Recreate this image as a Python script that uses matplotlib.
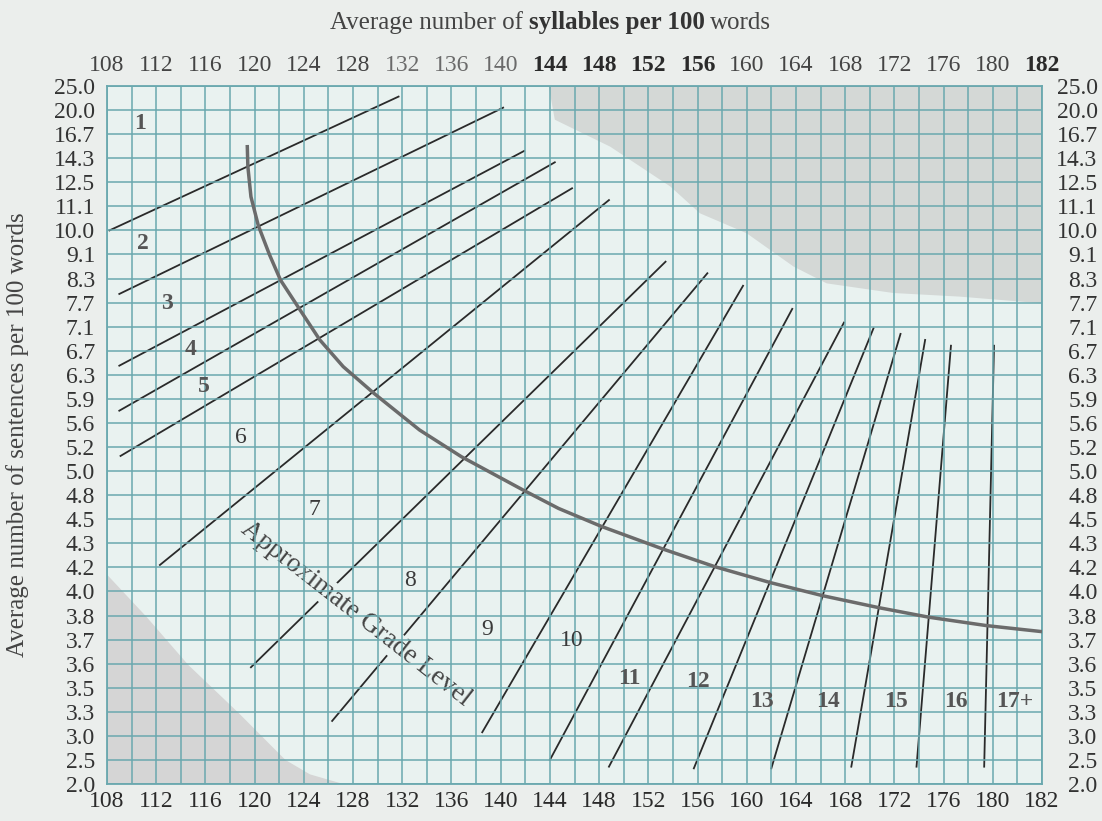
import numpy as np
import matplotlib.pyplot as plt

plt.rcParams['font.family'] = ['Liberation Serif', 'DejaVu Serif']

# x axis: syllables per 100 words (grid every 2, last column labelled 182)
x_ticks = list(range(108, 184, 4)) + [184]
x_labels = [str(v) for v in range(108, 184, 4)] + ['182']
x_bold = ['144', '148', '152', '156', '182']

# y axis: sentences per 100 words, one grid row per label
y_labels = ['25.0', '20.0', '16.7', '14.3', '12.5', '11.1', '10.0', '9.1', '8.3', '7.7',
            '7.1', '6.7', '6.3', '5.9', '5.6', '5.2', '5.0', '4.8', '4.5', '4.3',
            '4.2', '4.0', '3.8', '3.7', '3.6', '3.5', '3.3', '3.0', '2.5', '2.0']

# grade boundary lines (syllables, row index)
line_x0 = [108.2, 109.0, 109.0, 109.0, 109.1, 112.3, 119.7, 126.3, 138.5, 144.0, 148.8, 155.7, 162.0, 168.5, 173.8, 179.3]
line_y0 = [6.0, 8.64, 11.62, 13.49, 15.37, 19.9, 24.15, 26.38, 26.85, 28.0, 28.28, 28.35, 28.35, 28.28, 28.28, 28.28]
line_x1 = [131.7, 140.2, 141.9, 144.4, 145.8, 148.8, 153.4, 156.8, 159.7, 163.7, 167.9, 170.3, 172.5, 174.5, 176.6, 180.1]
line_y1 = [0.44, 0.90, 2.70, 3.17, 4.25, 4.74, 7.30, 7.78, 8.30, 9.26, 9.83, 10.07, 10.30, 10.55, 10.79, 10.79]

# approximate grade level curve
curve_x = [119.4, 119.45, 119.7, 120.3, 121.2, 122.1, 123.7, 125.3, 127.2, 129.7, 133.4, 136.8, 141.8, 144.7,
           148.2, 153.2, 157.4, 161.9, 166.2, 170.7, 174.8, 179.5, 184.0]
curve_y = [2.45, 3.35, 4.6, 5.8, 7.0, 8.06, 9.31, 10.55, 11.66, 12.77, 14.29, 15.4, 16.78, 17.55,
           18.3, 19.24, 19.97, 20.63, 21.18, 21.67, 22.07, 22.42, 22.67]

# grade labels
grades = ['1', '2', '3', '4', '5', '6', '7', '8', '9', '10', '11', '12', '13', '14', '15', '16', '17+']
grade_x = [110.7, 110.9, 112.85, 114.8, 115.9, 118.9, 124.85, 132.6, 138.9, 145.8, 150.5, 156.0,
           161.2, 166.6, 172.15, 177.0, 181.8]
grade_y = [1.55, 6.54, 9.03, 10.94, 12.49, 14.6, 17.59, 20.55, 22.6, 23.04, 24.6, 24.75,
           25.58, 25.58, 25.58, 25.58, 25.58]

# shaded (invalid) areas
low_x = [108.0, 108.0, 111.2, 114.6, 118.7, 122.5, 124.5, 127.2, 108.0]
low_y = [29.0, 20.3, 22.05, 24.05, 26.05, 28.0, 28.6, 29.0, 29.0]
high_x = [143.9, 144.4, 148.9, 153.8, 156.2, 160.0, 163.8, 166.5, 171.9, 177.3, 184.0, 184.0, 143.9]
high_y = [0.0, 1.4, 2.52, 4.18, 5.29, 6.12, 7.5, 8.2, 8.6, 8.75, 9.03, 0.0, 0.0]

grid_c = '#6aa8ae'
bg = '#ebeeec'
plot_bg = '#e9f2f0'

fig = plt.figure(figsize=(11.02, 8.21), dpi=100, facecolor=bg)
ax = fig.add_axes([107/1102, 1 - 784/821, 935/1102, 698/821])
ax.set_facecolor(plot_bg)
ax.set_xlim(108, 184)
ax.set_ylim(29, 0)

ax.fill(low_x, low_y, color='#d5d5d5', lw=0, zorder=1)
ax.fill(high_x, high_y, color='#c6c7c6', alpha=0.6, lw=0, zorder=1)

for i in range(len(line_x0)):
    ax.plot([line_x0[i], line_x1[i]], [line_y0[i], line_y1[i]], color='#2a2a2a', lw=1.3, zorder=2)

ax.text(128.2, 21.94, 'Approximate Grade Level', rotation=-38, rotation_mode='anchor',
        ha='center', va='center', fontsize=19.5, color='#444444', zorder=2.2,
        bbox=dict(facecolor=plot_bg, edgecolor='none', pad=0.3))

ax.plot(curve_x, curve_y, color='#6b6b6b', lw=2.5, solid_capstyle='butt', zorder=3)

for i, g in enumerate(grades):
    bold = g in ['1', '2', '3', '4', '5'] or len(g) > 1 and g != '10'
    ax.text(grade_x[i], grade_y[i], g, ha='center', va='center', fontsize=17,
            color='#555555' if bold else '#3a3a3a', fontweight='bold' if bold else 'normal', zorder=4)

# grid
ax.set_axisbelow(False)
ax.set_xticks(np.arange(108, 185, 2), minor=True)
ax.set_xticks(x_ticks)
ax.set_xticklabels(x_labels)
ax.set_yticks(range(len(y_labels)))
ax.set_yticklabels(y_labels)
ax.grid(which='both', color=grid_c, lw=1.1)
ax.tick_params(which='both', length=0)
ax.tick_params(axis='x', pad=5, labelsize=17, labelcolor='#2a2a2a')
ax.tick_params(axis='y', pad=8.5, labelsize=17, labelcolor='#333333')
for sp in ax.spines.values():
    sp.set_color(grid_c)
    sp.set_linewidth(1.3)

top = ax.secondary_xaxis('top')
top.set_xticks(x_ticks)
top.set_xticklabels(x_labels)
top.tick_params(length=0, pad=7, labelsize=17)
top.spines['top'].set_visible(False)
for lab in top.get_xticklabels():
    if lab.get_text() in x_bold:
        lab.set_fontweight('bold')
        lab.set_color('#2a2a2a')
    elif lab.get_text() in ['132', '136', '140']:
        lab.set_color('#6a6a6a')
    else:
        lab.set_color('#444444')

right = ax.twinx()
right.set_ylim(29, 0)
right.set_yticks(range(len(y_labels)))
right.set_yticklabels(y_labels)
right.tick_params(length=0, pad=40, labelsize=17, labelcolor='#333333')
for lab in right.get_yticklabels():
    lab.set_horizontalalignment('right')
for sp in right.spines.values():
    sp.set_visible(False)

# axis titles
t1 = fig.text(330/1102, 1 - 23/821, 'Average number of', fontsize=18, color='#444444',
              ha='left', va='center')
t2 = ax.annotate('syllables per 100', xy=(1, 0), xycoords=t1, xytext=(4, 0),
                 textcoords='offset points', fontsize=18, fontweight='bold', color='#333333',
                 ha='left', va='bottom', annotation_clip=False)
ax.annotate('words', xy=(1, 0), xycoords=t2, xytext=(4, 0), textcoords='offset points',
            fontsize=18, color='#444444', ha='left', va='bottom', annotation_clip=False)

fig.text(18/1102, 1 - 435/821, 'Average number of sentences per 100 words', rotation=90,
         fontsize=18, color='#444444', ha='center', va='center')

fig.savefig('out.png', dpi=100, facecolor=bg)
